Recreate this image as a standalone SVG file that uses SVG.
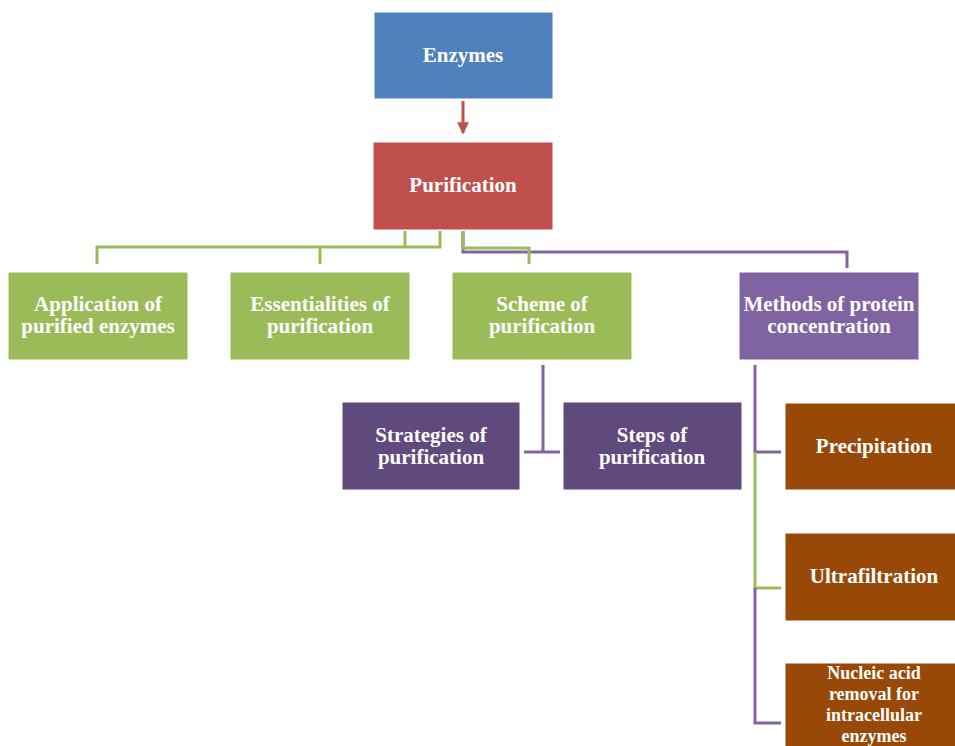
<svg xmlns="http://www.w3.org/2000/svg" width="955" height="746" viewBox="0 0 955 746">
<defs>
<style>
.box{stroke:#ffffff;stroke-width:1}
.t{font-family:"Liberation Serif","Times New Roman",serif;font-weight:bold;font-size:21px;fill:#ffffff;text-anchor:middle}
.s{font-size:18px}
.g{fill:none;stroke:#9BBB59;stroke-width:3}
.p{fill:none;stroke:#8064A2;stroke-width:3}
</style>
<marker id="ah" viewBox="0 0 10 10" refX="9" refY="5" markerWidth="4" markerHeight="4" orient="auto">
<path d="M0,0 L10,5 L0,10 z" fill="#C0504D"/>
</marker>
</defs>
<rect width="955" height="746" fill="#ffffff"/>
<g id="connectors">
<line x1="463" y1="101" x2="463" y2="133" stroke="#C0504D" stroke-width="3" marker-end="url(#ah)"/>
<path class="g" d="M405,231 V247 M440,231 V247 H97 V264 M320,247 V264"/>
<path class="p" d="M463,231 V252 H847 V268"/>
<path class="g" d="M463,231 V248 H529 V264"/>
<path class="p" d="M543,365 V452 M524,452 H560"/>
<path class="p" d="M755,365 V452 H781"/>
<path class="g" d="M755,452 V588 H781"/>
<path class="p" d="M755,588 V723 H781"/>
</g>
<g id="enzymes"><rect class="box" x="374" y="12" width="179" height="87" fill="#4F81BD"/><text class="t" x="463" y="62">Enzymes</text></g>
<g id="purification"><rect class="box" x="373" y="142" width="180" height="88" fill="#C0504D"/><text class="t" x="463" y="192">Purification</text></g>
<g id="application"><rect class="box" x="8" y="272" width="180" height="88" fill="#9BBB59"/><text class="t" x="98" y="311">Application of</text><text class="t" x="98" y="333">purified enzymes</text></g>
<g id="essentialities"><rect class="box" x="230" y="272" width="180" height="88" fill="#9BBB59"/><text class="t" x="320" y="311">Essentialities of</text><text class="t" x="320" y="333">purification</text></g>
<g id="scheme"><rect class="box" x="452" y="272" width="180" height="88" fill="#9BBB59"/><text class="t" x="542" y="311">Scheme of</text><text class="t" x="542" y="333">purification</text></g>
<g id="methods"><rect class="box" x="739" y="272" width="180" height="88" fill="#8064A2"/><text class="t" x="829" y="311">Methods of protein</text><text class="t" x="829" y="333">concentration</text></g>
<g id="strategies"><rect class="box" x="342" y="402" width="178" height="88" fill="#604A7B"/><text class="t" x="431" y="442">Strategies of</text><text class="t" x="431" y="464">purification</text></g>
<g id="steps"><rect class="box" x="563" y="402" width="179" height="88" fill="#604A7B"/><text class="t" x="652" y="442">Steps of</text><text class="t" x="652" y="464">purification</text></g>
<g id="precipitation"><rect class="box" x="785" y="403" width="180" height="87" fill="#984807"/><text class="t" x="874" y="453">Precipitation</text></g>
<g id="ultrafiltration"><rect class="box" x="785" y="533" width="180" height="88" fill="#984807"/><text class="t" x="874" y="583">Ultrafiltration</text></g>
<g id="nucleic"><rect class="box" x="785" y="663" width="180" height="88" fill="#984807"/><text class="t s" x="874" y="679">Nucleic acid</text><text class="t s" x="874" y="700">removal for</text><text class="t s" x="874" y="721">intracellular</text><text class="t s" x="874" y="742">enzymes</text></g>
</svg>
